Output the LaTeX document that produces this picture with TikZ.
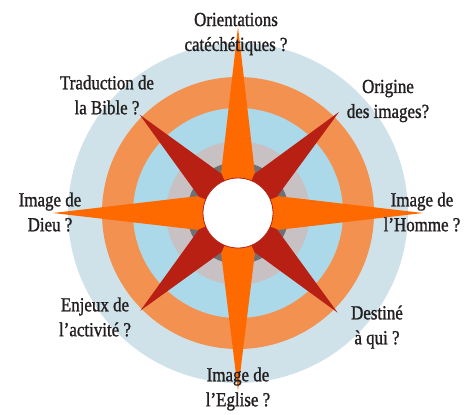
\documentclass[tikz,border=0pt]{standalone}
\usepackage{fontspec}
\setmainfont{Liberation Serif}[FakeStretch=0.85, FakeBold=1.2]
\usepackage{tikz}
\definecolor{paleblue}{RGB}{207,226,233}
\definecolor{ringorange}{RGB}{243,146,80}
\definecolor{skyblue}{RGB}{171,217,233}
\definecolor{lightgray}{RGB}{199,193,195}
\definecolor{darkgray}{RGB}{111,112,116}
\definecolor{starorange}{RGB}{255,106,0}
\definecolor{starred}{RGB}{184,32,20}
\definecolor{textgray}{RGB}{35,31,32}

\begin{document}
\begin{tikzpicture}[x=1bp, y=1bp,
    question/.style={align=center, font=\fontsize{20}{25}\selectfont, text=textgray, inner sep=0pt}]
        \useasboundingbox (-238,-201) rectangle (236,213);
        % rings
        \fill[paleblue] (0,0) circle (170bp);
        \fill[ringorange] (0,0) circle (136bp);
        \fill[skyblue] (0,0) circle (105bp);
        \fill[lightgray] (0,0) circle (72bp);
        \fill[darkgray] (0,0) circle (51bp);
        % diagonal points
        \fill[starred] (0,0) -- (22.5:42bp) -- (45:143bp) -- (67.5:42bp) -- cycle;
        \fill[starred] (0,0) -- (112.5:42bp) -- (135:139bp) -- (157.5:42bp) -- cycle;
        \fill[starred] (0,0) -- (202.5:42bp) -- (225:138bp) -- (247.5:42bp) -- cycle;
        \fill[starred] (0,0) -- (292.5:42bp) -- (315:141bp) -- (337.5:42bp) -- cycle;
        % main points
        \fill[starorange] (0,0) -- (67.5:44bp) -- (90:186bp) -- (112.5:44bp) -- cycle;
        \fill[starorange] (0,0) -- (157.5:44bp) -- (180:185bp) -- (202.5:44bp) -- cycle;
        \fill[starorange] (0,0) -- (247.5:44bp) -- (270:178bp) -- (292.5:44bp) -- cycle;
        \fill[starorange] (0,0) -- (337.5:44bp) -- (0:185bp) -- (22.5:44bp) -- cycle;
        % hub
        \filldraw[fill=white, draw=starred, line width=0.8bp] (0,0) circle (35bp);
        % questions
        \node[question] (orient) at (-2,179) {Orientations\\cat\'ech\'etiques ?};
        \node[question] (traduction) at (-131,118) {Traduction de\\la Bible ?};
        \node[question] (origine) at (150,112) {Origine\\des images?};
        \node[question] (dieu) at (-188,1) {Image de\\Dieu ?};
        \node[question] (homme) at (184,1) {Image de\\l'Homme ?};
        \node[question] (enjeux) at (-143,-104) {Enjeux de\\l'activit\'e ?};
        \node[question] (destine) at (139,-114) {Destin\'e\\\`a qui ?};
        \node[question] (eglise) at (0,-176) {Image de\\l'Eglise ?};
\end{tikzpicture}
\end{document}
